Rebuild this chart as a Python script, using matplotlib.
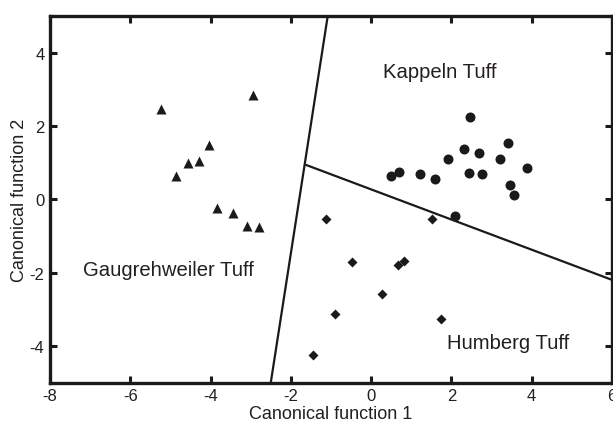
import numpy as np
import matplotlib
matplotlib.use("Agg")
from matplotlib import pyplot as plt

plt.rcParams['font.family'] = ['Liberation Sans', 'DejaVu Sans']
plt.rcParams['axes.unicode_minus'] = False

# Gaugrehweiler Tuff (triangles)
gau_x = [-5.23, -2.94, -4.05, -4.57, -4.29, -4.86, -3.84, -3.44, -3.09, -2.80]
gau_y = [2.47, 2.85, 1.48, 1.00, 1.04, 0.63, -0.22, -0.36, -0.72, -0.74]

# Kappeln Tuff (circles)
kap_x = [2.46, 2.31, 2.69, 3.42, 1.92, 3.22, 3.89, 0.50, 0.69, 1.22, 1.60, 2.44, 2.76, 3.45, 3.56, 2.10]
kap_y = [2.24, 1.37, 1.26, 1.54, 1.10, 1.10, 0.86, 0.63, 0.74, 0.69, 0.55, 0.72, 0.70, 0.39, 0.11, -0.44]

# Humberg Tuff (diamonds)
hum_x = [-1.12, 1.53, -0.48, 0.66, 0.81, 0.27, -0.91, 1.75, -1.44]
hum_y = [-0.54, -0.54, -1.71, -1.80, -1.68, -2.58, -3.12, -3.25, -4.23]

# boundary lines
line1_x = [-2.50, -1.08]
line1_y = [-5.0, 5.0]
line2_x = [-1.64, 6.0]
line2_y = [0.95, -2.19]

fig = plt.figure(figsize=(6.13, 4.27), dpi=100)
ax = fig.add_axes([0.0816, 0.101, 0.9165, 0.859])

ink = '#1a1a1a'
txt = '#231f20'
ax.plot(line1_x, line1_y, color=ink, lw=1.6, solid_capstyle='butt')
ax.plot(line2_x, line2_y, color=ink, lw=1.6, solid_capstyle='butt')

ax.plot(gau_x, gau_y, '^', color=ink, ms=6.5, mec='none')
ax.plot(kap_x, kap_y, 'o', color=ink, ms=7.2, mec='none')
ax.plot(hum_x, hum_y, 'D', color=ink, ms=5.6, mec='none')

ax.text(0.31, 3.5, 'Kappeln Tuff', fontsize=14.6, color=txt, va='center')
ax.text(-7.17, -1.92, 'Gaugrehweiler Tuff', fontsize=14.6, color=txt, va='center')
ax.text(1.89, -3.91, 'Humberg Tuff', fontsize=14.6, color=txt, va='center')

ax.set_xlim(-8, 6)
ax.set_ylim(-5, 5)
ax.set_xticks([-8, -6, -4, -2, 0, 2, 4, 6])
ax.set_yticks([-4, -2, 0, 2, 4])
ax.tick_params(direction='in', length=5, width=2.2, top=True, right=True,
               labelsize=12, labelcolor=txt, color=ink, pad=4)
for s in ax.spines.values():
    s.set_linewidth(2.4)
    s.set_color(ink)

ax.set_xlabel('Canonical function 1', fontsize=13, color=txt, labelpad=1)
ax.set_ylabel('Canonical function 2', fontsize=13, color=txt, labelpad=1)

fig.savefig('out.png', dpi=100)
